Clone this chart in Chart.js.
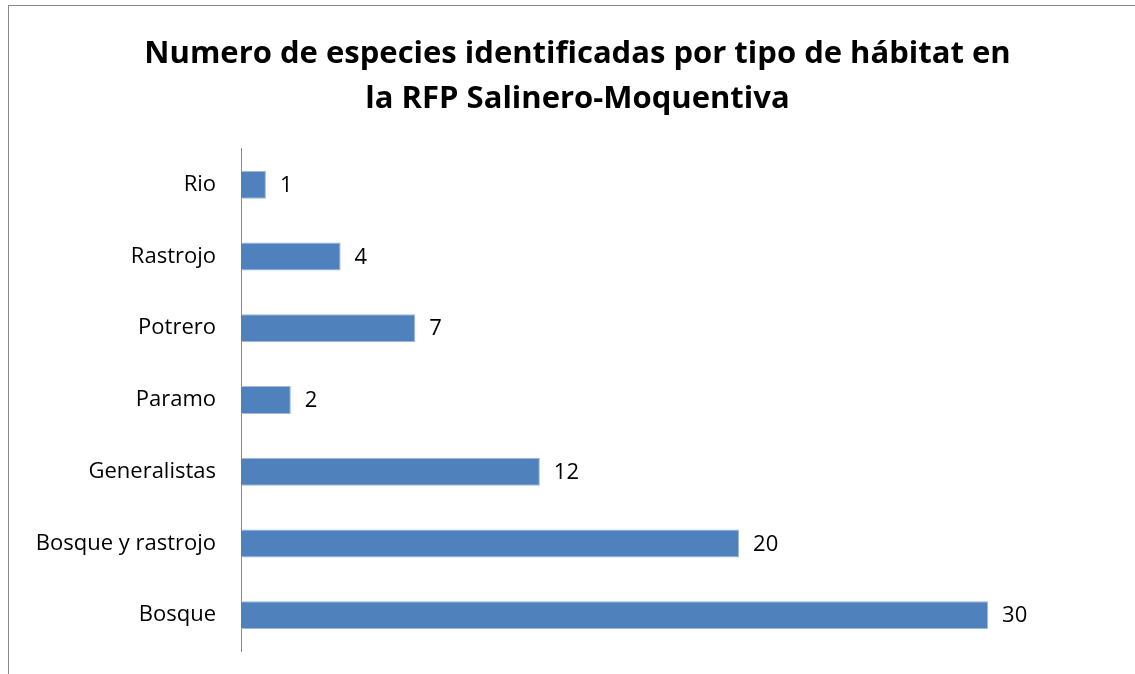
<!DOCTYPE html>
<html lang="es">
<head>
    <meta charset="UTF-8">
    <title>Especies por tipo de hábitat</title>
    <script src="https://cdn.jsdelivr.net/npm/chart.js"></script>
    <style>
        html, body { margin: 0; padding: 0; background: #fff; overflow: hidden; }
        .frame {
            position: absolute; left: 8px; top: 5px;
            width: 1200px; height: 700px;
            border-left: 1px solid #888; border-top: 1px solid #888;
        }
        .wrap { position: absolute; left: 0; top: 0; width: 1135px; height: 674px; }
    </style>
</head>
<body>
    <div class="frame"></div>
    <div class="wrap"><canvas id="habitatChart"></canvas></div>
    <script>
        const habitats = ['Rio', 'Rastrojo', 'Potrero', 'Paramo', 'Generalistas', 'Bosque y rastrojo', 'Bosque'];
        const especies = [1, 4, 7, 2, 12, 20, 30];
        const titulo = ['Numero de especies identificadas por tipo de hábitat en', 'la RFP Salinero-Moquentiva'];

        const FONT = '"Open Sans", Lato, sans-serif';

        // etiquetas de valor al final de cada barra
        const valueLabels = {
            id: 'valueLabels',
            afterDatasetsDraw(chart) {
                const ctx = chart.ctx;
                const meta = chart.getDatasetMeta(0);
                ctx.save();
                ctx.font = '22px ' + FONT;
                ctx.fillStyle = '#000';
                ctx.textBaseline = 'middle';
                ctx.textAlign = 'left';
                meta.data.forEach((bar, i) => {
                    ctx.fillText(String(especies[i]), bar.x + 14, bar.y + 1);
                });
                ctx.restore();
            }
        };

        new Chart(document.getElementById('habitatChart'), {
            type: 'bar',
            data: {
                labels: habitats,
                datasets: [{
                    data: especies,
                    backgroundColor: '#4F81BD',
                    borderColor: '#9DB9DC',
                    borderWidth: 1,
                    borderSkipped: 'start',
                    categoryPercentage: 1,
                    barPercentage: 0.39
                }]
            },
            options: {
                indexAxis: 'y',
                responsive: true,
                maintainAspectRatio: false,
                animation: false,
                layout: { padding: { left: 20, right: 0, top: 0, bottom: 23 } },
                plugins: {
                    legend: { display: false },
                    tooltip: { enabled: false },
                    title: {
                        display: true,
                        text: titulo,
                        color: '#000',
                        font: { family: FONT, size: 31, weight: 'bold', lineHeight: 1.45 },
                        padding: { top: 32, bottom: 27 }
                    }
                },
                scales: {
                    x: { display: false, min: 0, max: 35.9 },
                    y: {
                        afterFit(scale) {
                            scale.width = 221;
                            scale.paddingTop = 0;
                            scale.paddingBottom = 0;
                        },
                        grid: { display: false, drawTicks: false },
                        border: { display: true, color: '#888', width: 1 },
                        ticks: { color: '#000', padding: 25, font: { family: FONT, size: 22 } }
                    }
                }
            },
            plugins: [valueLabels]
        });
    </script>
</body>
</html>
